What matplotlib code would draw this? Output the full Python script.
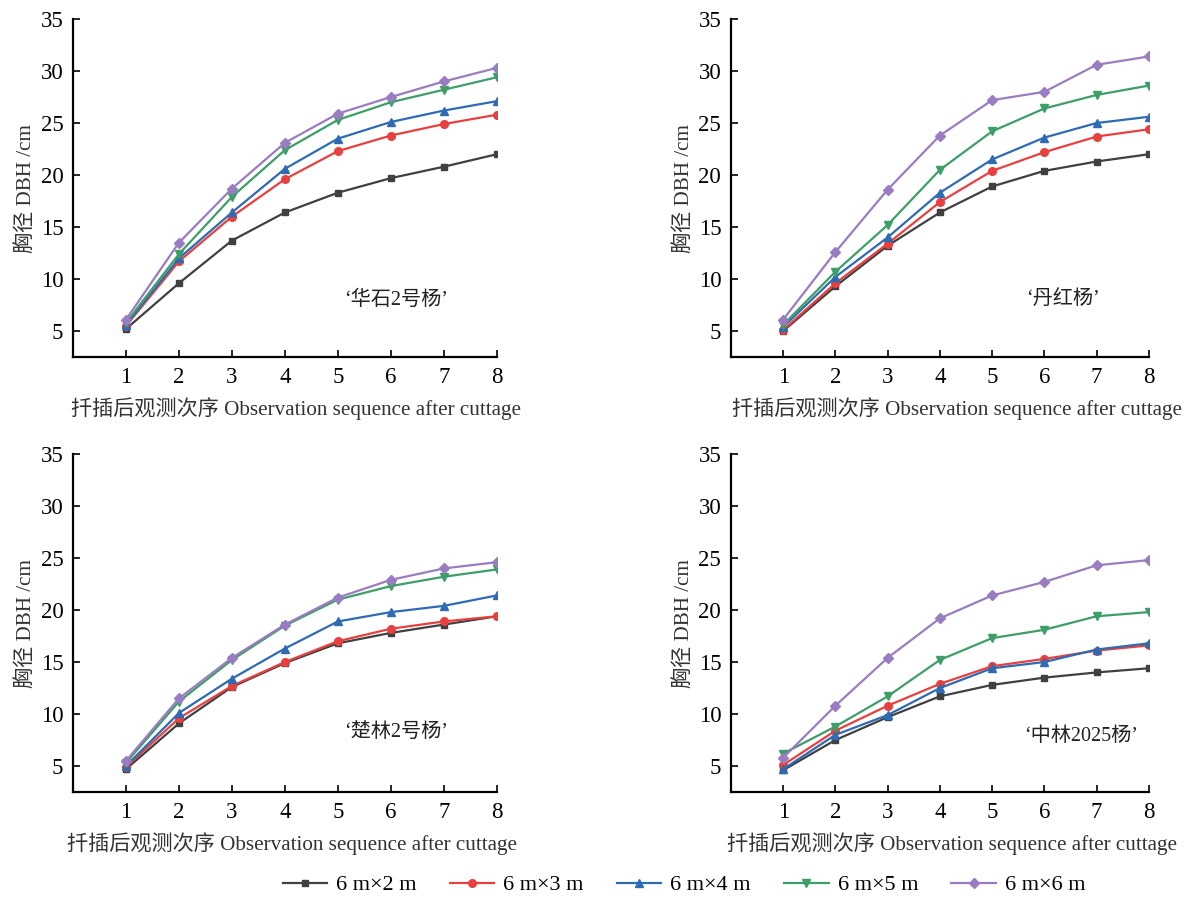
import matplotlib
matplotlib.use("Agg")
import matplotlib.pyplot as plt

plt.rcParams["font.family"] = ["Liberation Serif", "Noto Sans CJK SC"]

# ── Data ──────────────────────────────────────────────────────────────────────
obs = [1, 2, 3, 4, 5, 6, 7, 8]
spacings = ["6 m×2 m", "6 m×3 m", "6 m×4 m", "6 m×5 m", "6 m×6 m"]
clones = ["‘华石2号杨’", "‘丹红杨’", "‘楚林2号杨’", "‘中林2025杨’"]

huashi = [
    [5.2, 9.6, 13.7, 16.4, 18.3, 19.7, 20.8, 22.0],
    [5.5, 11.7, 16.0, 19.6, 22.3, 23.8, 24.9, 25.8],
    [5.6, 12.0, 16.4, 20.6, 23.5, 25.1, 26.2, 27.1],
    [5.8, 12.4, 17.9, 22.4, 25.3, 27.0, 28.2, 29.4],
    [6.1, 13.5, 18.7, 23.1, 25.9, 27.5, 29.0, 30.3],
]
danhong = [
    [5.0, 9.3, 13.2, 16.4, 18.9, 20.4, 21.3, 22.0],
    [5.1, 9.6, 13.4, 17.4, 20.4, 22.2, 23.7, 24.4],
    [5.4, 10.2, 14.0, 18.3, 21.5, 23.6, 25.0, 25.6],
    [5.6, 10.7, 15.2, 20.5, 24.2, 26.4, 27.7, 28.6],
    [6.1, 12.6, 18.6, 23.8, 27.2, 28.0, 30.6, 31.4],
]
chulin = [
    [4.7, 9.1, 12.6, 14.9, 16.8, 17.8, 18.6, 19.4],
    [4.9, 9.6, 12.7, 15.0, 17.0, 18.2, 18.9, 19.4],
    [5.0, 10.1, 13.4, 16.3, 18.9, 19.8, 20.4, 21.4],
    [5.3, 11.2, 15.2, 18.5, 21.0, 22.3, 23.2, 23.9],
    [5.5, 11.5, 15.4, 18.6, 21.2, 22.9, 24.0, 24.6],
]
zhonglin = [
    [4.6, 7.5, 9.7, 11.7, 12.8, 13.5, 14.0, 14.4],
    [5.1, 8.4, 10.8, 12.9, 14.6, 15.3, 16.1, 16.6],
    [4.7, 8.0, 9.9, 12.5, 14.4, 15.0, 16.2, 16.8],
    [6.2, 8.8, 11.7, 15.2, 17.3, 18.1, 19.4, 19.8],
    [5.8, 10.8, 15.4, 19.2, 21.4, 22.7, 24.3, 24.8],
]
panels = [huashi, danhong, chulin, zhonglin]
label_pos = [(6.1, 8.0), (6.35, 8.0), (6.1, 8.2), (6.7, 7.8)]
xlabel_x = [0.526, 0.541, 0.517, 0.529]

colors = ["#404040", "#E8403F", "#2E6BB3", "#3E9E68", "#9A7CC0"]
markers = ["s", "o", "^", "v", "D"]
msizes = [5, 5.5, 6, 6, 5]

# ── Layout ────────────────────────────────────────────────────────────────────
fig = plt.figure(figsize=(11.87, 8.98), dpi=100)
rects = [
    [0.0615, 0.6024, 0.357, 0.3764],
    [0.6158, 0.6024, 0.352, 0.3764],
    [0.0615, 0.1180, 0.357, 0.3764],
    [0.6158, 0.1180, 0.352, 0.3764],
]

lines = []
for i, data in enumerate(panels):
    ax = fig.add_axes(rects[i])
    for j, ys in enumerate(data):
        ln, = ax.plot(obs, ys, color=colors[j], marker=markers[j],
                      markersize=msizes[j], linewidth=1.6, label=spacings[j])
        if i == 0:
            lines.append(ln)
    ax.set_xlim(0, 8)
    ax.set_ylim(2.5, 35)
    ax.set_xticks(obs)
    ax.set_yticks([5, 10, 15, 20, 25, 30, 35])
    ax.tick_params(direction="in", length=5, width=1.2, labelsize=16.5, pad=7)
    ax.spines[["top", "right"]].set_visible(False)
    ax.spines[["left", "bottom"]].set_linewidth(1.6)
    ax.set_xlabel("扦插后观测次序 Observation sequence after cuttage",
                  fontsize=15.2, color="#333333", labelpad=7)
    ax.xaxis.label.set_x(xlabel_x[i])
    ax.set_ylabel("胸径 DBH /cm", fontsize=15.2, color="#333333", labelpad=3)
    ax.text(label_pos[i][0], label_pos[i][1], clones[i], fontsize=14.5,
            ha="center", va="center", color="#222222")

fig.legend(lines, spacings, loc="center", ncol=5, frameon=False,
           bbox_to_anchor=(684 / 1187, 1 - 885 / 898), fontsize=16,
           handlelength=2.0, columnspacing=1.5, handletextpad=0.4)

fig.savefig("out.png", dpi=100)
